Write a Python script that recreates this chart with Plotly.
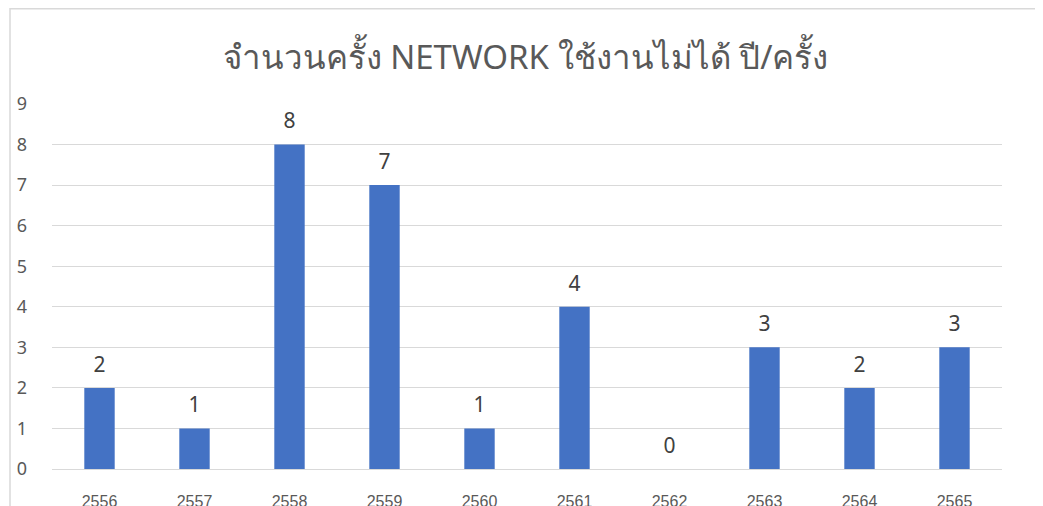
import plotly.graph_objects as go

years = ["2556", "2557", "2558", "2559", "2560", "2561", "2562", "2563", "2564", "2565"]
counts = [2, 1, 8, 7, 1, 4, 0, 3, 2, 3]
title_text = "จำนวนครั้ง NETWORK ใช้งานไม่ได้ ปี/ครั้ง"

fig = go.Figure()
fig.add_trace(go.Bar(
    x=years, y=counts,
    marker=dict(color="#4472C4", line=dict(width=0)),
    hoverinfo="x+y",
))
# data labels placed above each bar top
fig.add_trace(go.Scatter(
    x=years, y=counts, mode="markers+text",
    text=[str(v) for v in counts], textposition="top center",
    marker=dict(size=16, opacity=0),
    cliponaxis=False, hoverinfo="skip",
    textfont=dict(size=21, color="#404040", family="Noto Sans, Open Sans, sans-serif"),
))

fig.update_layout(
    width=1035, height=498,
    margin=dict(l=44, r=41, t=96, b=37, autoexpand=False),
    paper_bgcolor="white", plot_bgcolor="white",
    showlegend=False,
    bargap=0.68,
    title=dict(text=title_text, x=0.5, xanchor="center", y=0.9, yanchor="middle",
               font=dict(size=33, color="#595959", family="Noto Sans, Open Sans, sans-serif")),
    xaxis=dict(type="category", range=[-0.5, 9.5], showgrid=False, showline=False, ticks="",
               automargin=False,
               tickfont=dict(size=16, color="#595959", family="Liberation Sans, Arial, sans-serif"),
               ticklabelstandoff=21),
    yaxis=dict(range=[0, 9], dtick=1, showgrid=True, gridcolor="#d9d9d9", gridwidth=1.3,
               zeroline=True, zerolinecolor="#d9d9d9", zerolinewidth=1.3,
               showline=False, ticks="", automargin=False,
               tickfont=dict(size=18, color="#595959", family="Noto Sans, Open Sans, sans-serif"),
               ticklabelstandoff=24),
    shapes=[dict(type="rect", xref="paper", yref="paper",
                 x0=-0.0442, x1=1.2, y0=-0.3, y1=1.261,
                 line=dict(color="#d9d9d9", width=1.5), fillcolor="rgba(0,0,0,0)", layer="below")],
)

fig.write_html("out.html")
